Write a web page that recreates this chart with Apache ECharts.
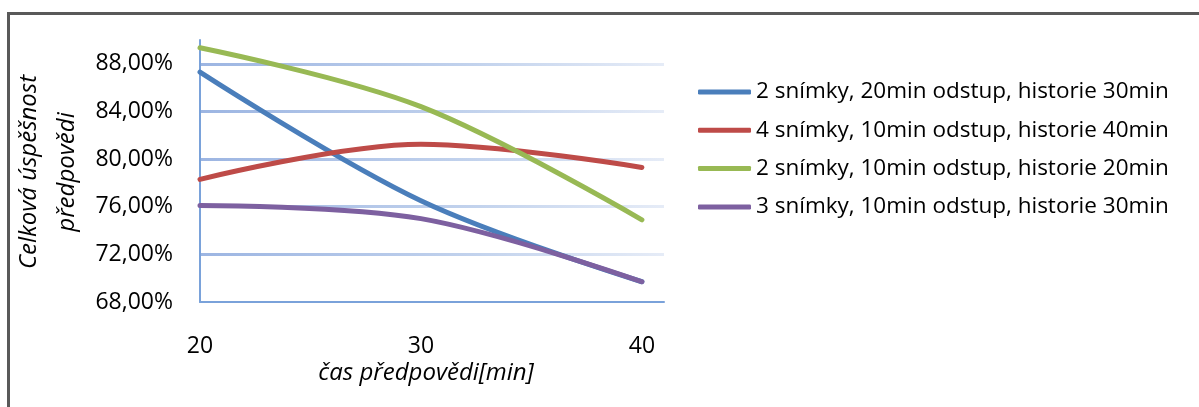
<!DOCTYPE html>
<html>
<head>
<meta charset="utf-8">
<script src="https://cdn.jsdelivr.net/npm/echarts@6/dist/echarts.min.js"></script>
<style>
  html, body { margin: 0; padding: 0; background: #ffffff; }
  #chart { width: 1199px; height: 407px; }
</style>
</head>
<body>
<div id="chart"></div>
<script>
// ---- data ----
const xValues = [20, 30, 40];
const xTickLabels = ['20', '30', '40'];
const seriesNames = [
  '2 snímky, 20min odstup, historie 30min',
  '4 snímky, 10min odstup, historie 40min',
  '2 snímky, 10min odstup, historie 20min',
  '3 snímky, 10min odstup, historie 30min'
];
const blueValues   = [0.873, 0.765, 0.697];
const redValues    = [0.783, 0.8125, 0.793];
const greenValues  = [0.8935, 0.844, 0.749];
const purpleValues = [0.761, 0.750, 0.697];
const yTickValues = [0.68, 0.72, 0.76, 0.80, 0.84, 0.88];
const yAxisTitle = 'Celková úspěšnost\npředpovědi';
const xAxisTitle = 'čas předpovědi[min]';

const colors = ['#4a7ebb', '#be4b48', '#98b954', '#7d60a0'];
const allValues = [blueValues, redValues, greenValues, purpleValues];

const FONT = '"Open Sans", sans-serif';

const chart = echarts.init(document.getElementById('chart'), null, { renderer: 'canvas' });

const series = seriesNames.map((name, i) => ({
  name: name,
  type: 'line',
  smooth: 0.35,
  showSymbol: false,
  symbol: 'none',
  data: xValues.map((x, j) => [x, allValues[i][j]]),
  lineStyle: { color: colors[i], width: 5, cap: 'round', join: 'round' },
  itemStyle: { color: colors[i] },
  z: 3 + i
}));

const option = {
  animation: false,
  backgroundColor: '#ffffff',
  grid: { left: 200, top: 40, width: 464, height: 262, containLabel: false },
  xAxis: {
    type: 'value',
    min: 20, max: 41, interval: 10,
    axisLine: { show: true, lineStyle: { color: '#7aa2da', width: 2 } },
    axisTick: { show: false },
    splitLine: { show: false },
    axisLabel: {
      showMaxLabel: false,
      margin: 33,
      color: '#000',
      fontFamily: FONT,
      fontSize: 23,
      formatter: function (v) {
        const idx = xValues.indexOf(v);
        return idx >= 0 ? xTickLabels[idx] : '';
      }
    }
  },
  yAxis: {
    type: 'value',
    min: 0.68, max: 0.90, interval: 0.04,
    axisLine: { show: true, lineStyle: { color: '#7aa2da', width: 2 } },
    axisTick: { show: false },
    splitLine: {
      show: true,
      showMinLine: false,
      showMaxLine: false,
      lineStyle: {
        width: 3,
        color: new echarts.graphic.LinearGradient(0, 0, 1, 0, [
          { offset: 0, color: '#9cb5e2' },
          { offset: 0.6, color: '#c3d3ed' },
          { offset: 1, color: '#e6ecf7' }
        ])
      }
    },
    axisLabel: {
      showMaxLabel: false,
      margin: 27,
      color: '#000',
      fontFamily: FONT,
      fontSize: 23,
      formatter: function (v) {
        const hit = yTickValues.find(t => Math.abs(t - v) < 1e-6);
        if (hit === undefined) return '';
        return (hit * 100).toFixed(2).replace('.', ',') + '%';
      }
    }
  },
  legend: {
    orient: 'vertical',
    left: 698,
    top: 80,
    padding: 0,
    itemWidth: 53,
    itemHeight: 5,
    itemGap: 14.3,
    icon: 'roundRect',
    data: seriesNames,
    textStyle: { color: '#000', fontFamily: FONT, fontSize: 22.5, lineHeight: 24 }
  },
  graphic: [
    {
      type: 'rect',
      shape: { x: 8.5, y: 13.5, width: 1300, height: 600 },
      style: { fill: 'none', stroke: '#595959', lineWidth: 3 },
      silent: true, z: 100
    },
    {
      type: 'text',
      x: 48, y: 172,
      rotation: Math.PI / 2,
      style: {
        text: yAxisTitle,
        fontFamily: FONT,
        fontStyle: 'italic',
        fontSize: 24,
        lineHeight: 38,
        fill: '#000',
        align: 'center',
        verticalAlign: 'middle'
      },
      silent: true
    },
    {
      type: 'text',
      x: 426, y: 373,
      style: {
        text: xAxisTitle,
        fontFamily: FONT,
        fontStyle: 'italic',
        fontSize: 24,
        fill: '#000',
        align: 'center',
        verticalAlign: 'middle'
      },
      silent: true
    }
  ],
  series: series
};

chart.setOption(option);
</script>
</body>
</html>
